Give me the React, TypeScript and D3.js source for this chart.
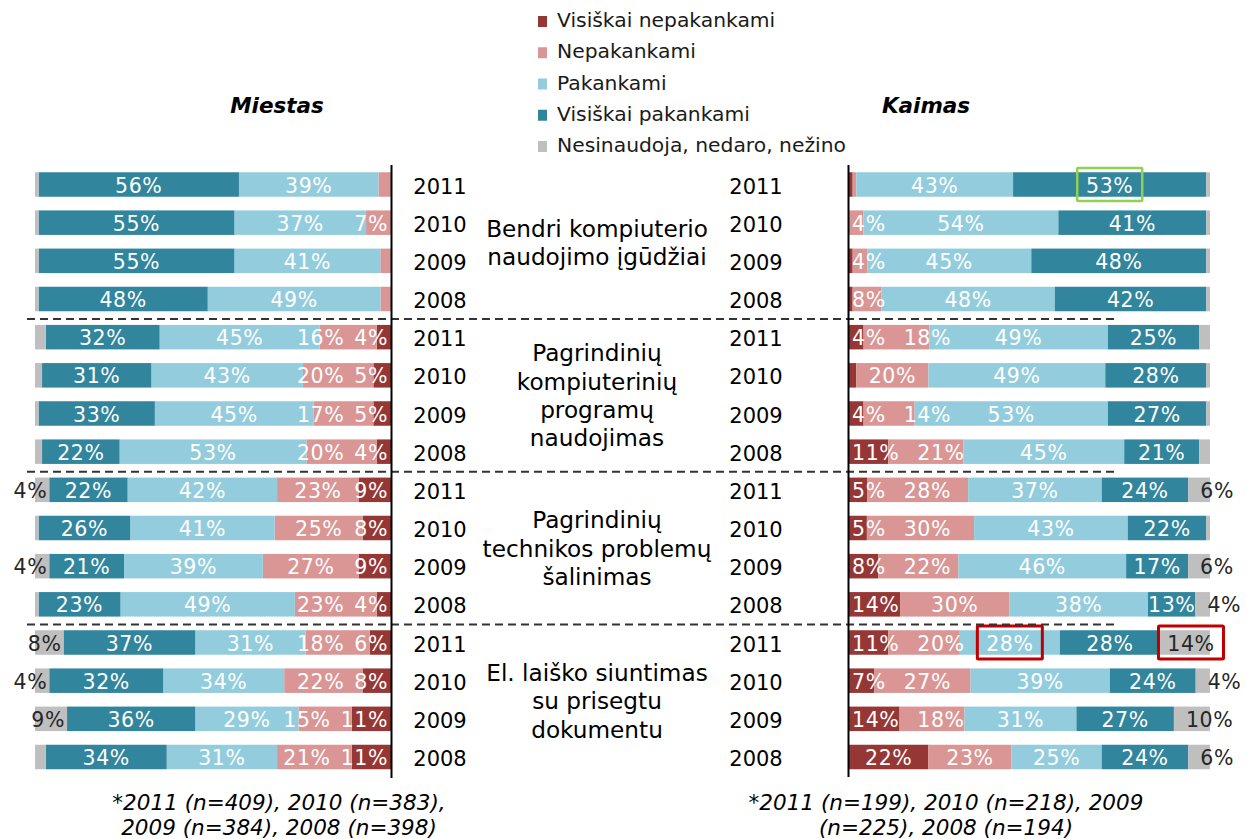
import React from 'react';
import * as d3 from 'd3';

// ---------- data ----------
const SERIES = ['Visiškai nepakankami', 'Nepakankami', 'Pakankami', 'Visiškai pakankami', 'Nesinaudoja, nedaro, nežino'];
const SERIES_KEYS = ['vn', 'n', 'p', 'vp', 'g'];
const YEARS = ['2011', '2010', '2009', '2008'];
const CATEGORIES = [
  ['Bendri kompiuterio', 'naudojimo įgūdžiai'],
  ['Pagrindinių', 'kompiuterinių', 'programų', 'naudojimas'],
  ['Pagrindinių', 'technikos problemų', 'šalinimas'],
  ['El. laiško siuntimas', 'su prisegtu', 'dokumentu'],
];
const PANEL_TITLES = ['Miestas', 'Kaimas'];
const FOOTNOTE_MIESTAS = ['*2011 (n=409), 2010 (n=383),', '2009 (n=384), 2008 (n=398)'];
const FOOTNOTE_KAIMAS = ['*2011 (n=199), 2010 (n=218), 2009', '(n=225), 2008 (n=194)'];

// Miestas: 16 rows = 4 categories x years 2011..2008
const M_VN = [0, 0, 0, 0, 4, 5, 5, 4, 9, 8, 9, 4, 6, 8, 11, 11];
const M_N = [3.5, 7, 3, 3, 16, 20, 17, 20, 23, 25, 27, 23, 18, 22, 15, 21];
const M_P = [39, 37, 41, 49, 45, 43, 45, 53, 42, 41, 39, 49, 31, 34, 29, 31];
const M_VP = [56, 55, 55, 48, 32, 31, 33, 22, 22, 26, 21, 23, 37, 32, 36, 34];
const M_G = [1, 1, 1, 1, 3, 2, 1, 2, 4, 1, 4, 1, 8, 4, 9, 3];

// Kaimas
const K_VN = [1, 0, 1, 1, 4, 2, 4, 11, 5, 5, 8, 14, 11, 7, 14, 22];
const K_N = [1, 4, 4, 8, 18, 20, 14, 21, 28, 30, 22, 30, 20, 27, 18, 23];
const K_P = [43, 54, 45, 48, 49, 49, 53, 45, 37, 43, 46, 38, 28, 39, 31, 25];
const K_VP = [53, 41, 48, 42, 25, 28, 27, 21, 24, 22, 17, 13, 28, 24, 27, 24];
const K_G = [1, 1, 1, 1, 3, 1, 1, 3, 6, 1, 6, 4, 14, 4, 10, 6];

// highlighted labels (panel 1 = Kaimas)
const HIGHLIGHTS = [
  { panel: 1, row: 0, key: 'vp', kind: 'green' },
  { panel: 1, row: 12, key: 'p', kind: 'red' },
  { panel: 1, row: 12, key: 'g', kind: 'red' },
];

// ---------- styles ----------
const COLORS: Record<string, string> = {
  vn: '#953735',
  n: '#D99694',
  p: '#93CDDD',
  vp: '#31859C',
  g: '#BFBFBF',
};
const HL_COLORS: Record<string, string> = { green: '#92D050', red: '#C00000' };
const FONT = "'DejaVu Sans', Verdana, sans-serif";
const LABEL_FS = 20.5;
const LABEL_LS = 0.6;
const MIN_LABEL = 4;

function buildRows(vn: number[], n: number[], p: number[], vp: number[], g: number[]) {
  return vn.map((_, i) => ({ vn: vn[i], n: n[i], p: p[i], vp: vp[i], g: g[i] }));
}

const ROW_IDS = d3.range(16).map(String);
const yScale = d3.scalePoint<string>().domain(ROW_IDS).range([184.5, 757]);
const BAR_H = 24.5;

function labelWidth(t: string) {
  let w = 0;
  for (const ch of t) w += ch === '%' ? 0.95 : 0.636;
  return w * LABEL_FS + LABEL_LS * t.length;
}

type Lab = { row: number; key: string; text: string; cx: number; dark: boolean };

function Panel({ rows, axisX, endX, dir, panelIdx }: { rows: any[]; axisX: number; endX: number; dir: number; panelIdx: number }) {
  const stack = d3.stack<any>().keys(SERIES_KEYS).offset(d3.stackOffsetExpand);
  const layers = stack(rows);
  const x = d3.scaleLinear().domain([0, 1]).range([axisX, endX]);

  const rects: JSX.Element[] = [];
  const labels: Lab[] = [];
  const gap = dir < 0 ? 10 : 18;

  rows.forEach((r, i) => {
    let limit = axisX + dir * 3; // axis side boundary for labels
    layers.forEach((layer) => {
      const key = layer.key;
      const d = layer[i];
      const x0 = x(d[0]);
      const x1 = x(d[1]);
      const left = Math.min(x0, x1);
      const w = Math.abs(x1 - x0);
      if (w > 0.01) {
        rects.push(
          <rect key={`${key}-${i}`} x={left} y={yScale(String(i))! - BAR_H / 2} width={w} height={BAR_H} fill={COLORS[key]} />
        );
      }
      const v = r[key];
      if (v >= MIN_LABEL) {
        const text = `${Math.round(v)}%`;
        const lw = labelWidth(text);
        let c = (x0 + x1) / 2;
        if (key === 'g') {
          const extra = dir < 0 ? 2 : lw > w ? 12 : 6;
          c = c + dir * (Math.max(0, (lw - w) / 2) + extra);
        } else {
          if (dir < 0) {
            if (c + lw / 2 > limit) c = limit - lw / 2;
            limit = c - lw / 2 - gap;
          } else {
            if (c - lw / 2 < limit) c = limit + lw / 2;
            limit = c + lw / 2 + gap;
          }
        }
        labels.push({ row: i, key, text, cx: c, dark: key === 'g' });
      }
    });
  });

  const hl = HIGHLIGHTS.filter((h) => h.panel === panelIdx);

  return (
    <g>
      {rects}
      {labels.map((l) => (
        <text
          key={`l-${l.key}-${l.row}`}
          x={l.cx}
          y={yScale(String(l.row))! + 1}
          textAnchor="middle"
          dominantBaseline="central"
          fontFamily={FONT}
          fontSize={LABEL_FS}
          letterSpacing={LABEL_LS}
          fill={l.dark ? '#262626' : '#FFFFFF'}
        >
          {l.text}
        </text>
      ))}
      {hl.map((h, k) => {
        const l = labels.find((q) => q.row === h.row && q.key === h.key);
        if (!l) return null;
        const cy = yScale(String(h.row))!;
        return (
          <rect
            key={`hl-${k}`}
            x={l.cx - 32.5}
            y={cy - 16.5}
            width={65}
            height={33}
            fill="none"
            stroke={HL_COLORS[h.kind]}
            strokeWidth={h.kind === 'red' ? 3 : 2.5}
            rx={1}
          />
        );
      })}
    </g>
  );
}

export default function App() {
  const mRows = buildRows(M_VN, M_N, M_P, M_VP, M_G);
  const kRows = buildRows(K_VN, K_N, K_P, K_VP, K_G);
  const legendY = d3.scalePoint<string>().domain(SERIES).range([20, 145]);
  const step = yScale.step();

  const sepYs = [1, 2, 3].map((gi) => (yScale(String(gi * 4 - 1))! + yScale(String(gi * 4))!) / 2 + 1);

  return (
    <svg
      width={1247}
      height={839}
      viewBox="0 0 1247 839"
      style={{ position: 'absolute', left: 0, top: 0, background: '#fff' }}
    >
      <rect x={0} y={0} width={1247} height={839} fill="#fff" />

      {/* legend */}
      {SERIES.map((s, i) => (
        <g key={s}>
          <rect x={538} y={legendY(s)! - 4} width={9} height={11} fill={COLORS[SERIES_KEYS[i]]} />
          <text x={557} y={legendY(s)!} dominantBaseline="central" fontFamily={FONT} fontSize={20.3} fill="#1a1a1a">
            {s}
          </text>
        </g>
      ))}

      {/* panel titles */}
      <text x={277} y={105} textAnchor="middle" dominantBaseline="central" fontFamily={FONT} fontSize={21.5} fontWeight="bold" fontStyle="italic" fill="#000">
        {PANEL_TITLES[0]}
      </text>
      <text x={926} y={105} textAnchor="middle" dominantBaseline="central" fontFamily={FONT} fontSize={21.5} fontWeight="bold" fontStyle="italic" fill="#000">
        {PANEL_TITLES[1]}
      </text>

      {/* bars */}
      <Panel rows={mRows} axisX={391} endX={35} dir={-1} panelIdx={0} />
      <Panel rows={kRows} axisX={849} endX={1210} dir={1} panelIdx={1} />

      {/* separators */}
      {sepYs.map((y, i) => (
        <line key={`sep-${i}`} x1={27} x2={1116} y1={y} y2={y} stroke="#333" strokeWidth={2} strokeDasharray="8 5" />
      ))}

      {/* axes */}
      <line x1={391.5} x2={391.5} y1={165} y2={778} stroke="#000" strokeWidth={2} />
      <line x1={848.5} x2={848.5} y1={165} y2={777} stroke="#000" strokeWidth={2} />

      {/* years */}
      {ROW_IDS.map((id, i) => (
        <g key={`yr-${id}`}>
          <text x={440} y={yScale(id)! + 2} textAnchor="middle" dominantBaseline="central" fontFamily={FONT} fontSize={21} fill="#000">
            {YEARS[i % 4]}
          </text>
          <text x={756} y={yScale(id)! + 2} textAnchor="middle" dominantBaseline="central" fontFamily={FONT} fontSize={21} fill="#000">
            {YEARS[i % 4]}
          </text>
        </g>
      ))}

      {/* category labels */}
      {CATEGORIES.map((lines, gi) => {
        const cy = yScale(String(gi * 4))! + step * 1.5 + 1;
        const lh = 28.3;
        return lines.map((ln, li) => (
          <text
            key={`cat-${gi}-${li}`}
            x={597}
            y={cy + (li - (lines.length - 1) / 2) * lh}
            textAnchor="middle"
            dominantBaseline="central"
            fontFamily={FONT}
            fontSize={23.2}
            fill="#000"
          >
            {ln}
          </text>
        ));
      })}

      {/* footnotes */}
      {FOOTNOTE_MIESTAS.map((t, i) => (
        <text key={`fm-${i}`} x={279} y={810 + i * 25} textAnchor="middle" fontFamily={FONT} fontSize={21.5} fontStyle="italic" fill="#000">
          {t}
        </text>
      ))}
      {FOOTNOTE_KAIMAS.map((t, i) => (
        <text key={`fk-${i}`} x={946} y={810 + i * 25} textAnchor="middle" fontFamily={FONT} fontSize={21.5} fontStyle="italic" fill="#000">
          {t}
        </text>
      ))}
    </svg>
  );
}
